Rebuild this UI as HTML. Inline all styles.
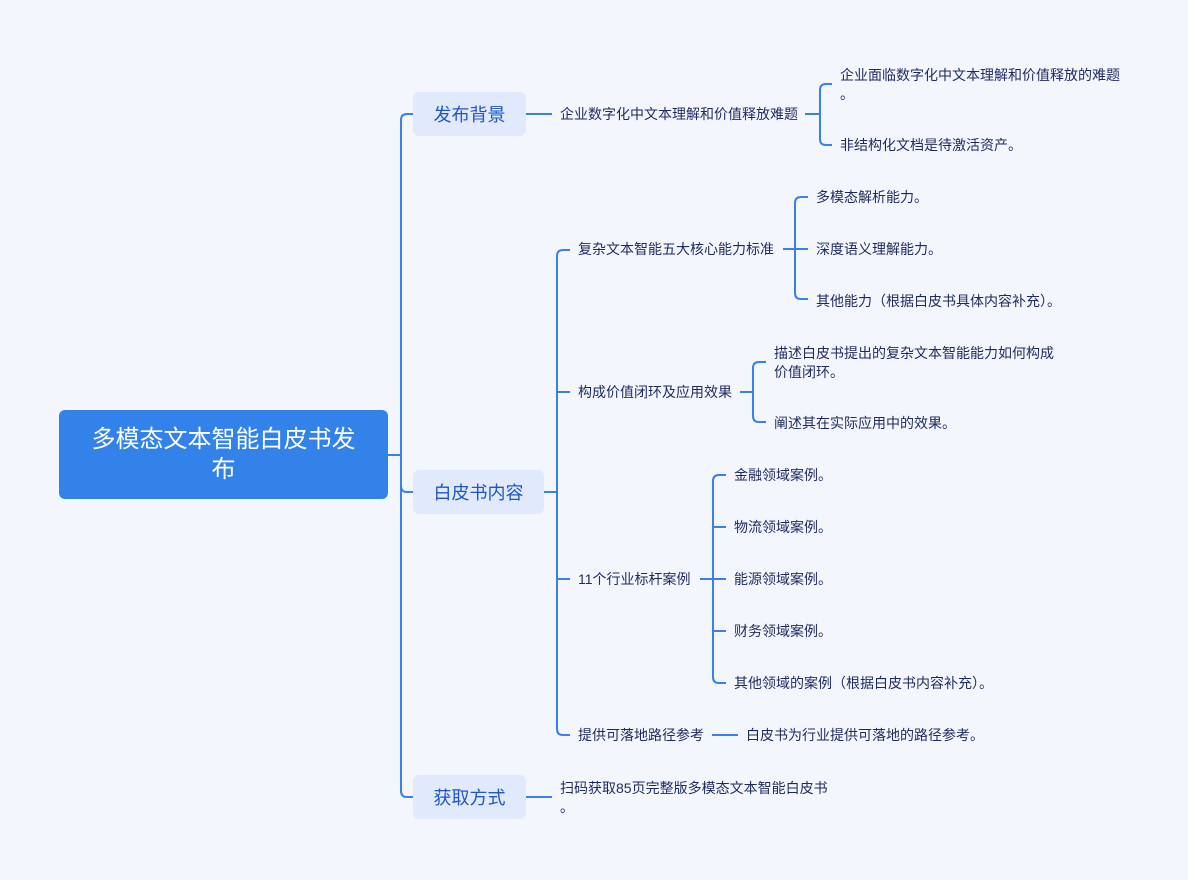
<!DOCTYPE html>
<html><head><meta charset="utf-8"><style>
html,body{margin:0;padding:0;background:#f4f6fe;}
body{width:1188px;height:880px;position:relative;overflow:hidden;font-family:"Liberation Sans","Noto Sans CJK SC",sans-serif;}
.t{position:absolute;font-size:14px;color:#1d2a5e;white-space:nowrap;line-height:19px;}
.l1{position:absolute;background:#e1e9fd;border-radius:6px;color:#1f56c4;font-size:18px;display:flex;align-items:center;justify-content:center;}
.root{position:absolute;left:59px;top:410px;width:329px;height:89px;background:#3282ea;border-radius:6px;color:#fff;font-size:24px;text-align:center;line-height:30px;display:flex;align-items:center;justify-content:center;}
svg{position:absolute;left:0;top:0;}
</style></head><body>
<svg width="1188" height="880" fill="none" stroke="#3a80ea" stroke-width="2">
<!-- root spine -->
<path d="M388,455 H401"/>
<path d="M413,114 H407 Q401,114 401,120 V791 Q401,797 407,797 H413"/>
<path d="M401,486 Q401,492 407,492 H413"/>
<!-- branch1 -->
<path d="M526,114 H552"/>
<path d="M805,114 H820"/>
<path d="M832,84 H826 Q820,84 820,90 V139 Q820,145 826,145 H832"/>
<!-- branch2 -->
<path d="M544,492 H557"/>
<path d="M570,250 H563 Q557,250 557,256 V729 Q557,735 563,735 H570"/>
<path d="M557,392 H570 M557,579 H570"/>
<!-- 复杂 -->
<path d="M783,249 H808"/>
<path d="M808,197 H801 Q795,197 795,203 V293 Q795,299 801,299 H808"/>
<!-- 构成 -->
<path d="M740,392 H753"/>
<path d="M766,362 H759 Q753,362 753,368 V416 Q753,422 759,422 H766"/>
<!-- 11 -->
<path d="M700,579 H726"/>
<path d="M726,475 H719 Q713,475 713,481 V677 Q713,683 719,683 H726"/>
<path d="M713,527 H726 M713,631 H726"/>
<!-- 提供 -->
<path d="M712,735 H738"/>
<!-- branch3 -->
<path d="M526,797 H552"/>
</svg>
<div class="root">多模态文本智能白皮书发<br>布</div>
<div class="l1" style="left:413px;top:92px;width:113px;height:44px;">发布背景</div>
<div class="l1" style="left:413px;top:470px;width:131px;height:44px;">白皮书内容</div>
<div class="l1" style="left:413px;top:775px;width:113px;height:44px;">获取方式</div>

<div class="t" style="left:560px;top:105px;">企业数字化中文本理解和价值释放难题</div>
<div class="t" style="left:840px;top:66px;">企业面临数字化中文本理解和价值释放的难题<br>。</div>
<div class="t" style="left:840px;top:136px;">非结构化文档是待激活资产。</div>

<div class="t" style="left:578px;top:240px;">复杂文本智能五大核心能力标准</div>
<div class="t" style="left:816px;top:188px;">多模态解析能力。</div>
<div class="t" style="left:816px;top:240px;">深度语义理解能力。</div>
<div class="t" style="left:816px;top:292px;">其他能力（根据白皮书具体内容补充）。</div>

<div class="t" style="left:578px;top:383px;">构成价值闭环及应用效果</div>
<div class="t" style="left:774px;top:344px;">描述白皮书提出的复杂文本智能能力如何构成<br>价值闭环。</div>
<div class="t" style="left:774px;top:414px;">阐述其在实际应用中的效果。</div>

<div class="t" style="left:578px;top:570px;">11个行业标杆案例</div>
<div class="t" style="left:734px;top:466px;">金融领域案例。</div>
<div class="t" style="left:734px;top:518px;">物流领域案例。</div>
<div class="t" style="left:734px;top:570px;">能源领域案例。</div>
<div class="t" style="left:734px;top:622px;">财务领域案例。</div>
<div class="t" style="left:734px;top:674px;">其他领域的案例（根据白皮书内容补充）。</div>

<div class="t" style="left:578px;top:726px;">提供可落地路径参考</div>
<div class="t" style="left:746px;top:726px;">白皮书为行业提供可落地的路径参考。</div>

<div class="t" style="left:560px;top:779px;">扫码获取85页完整版多模态文本智能白皮书<br>。</div>
</body></html>
